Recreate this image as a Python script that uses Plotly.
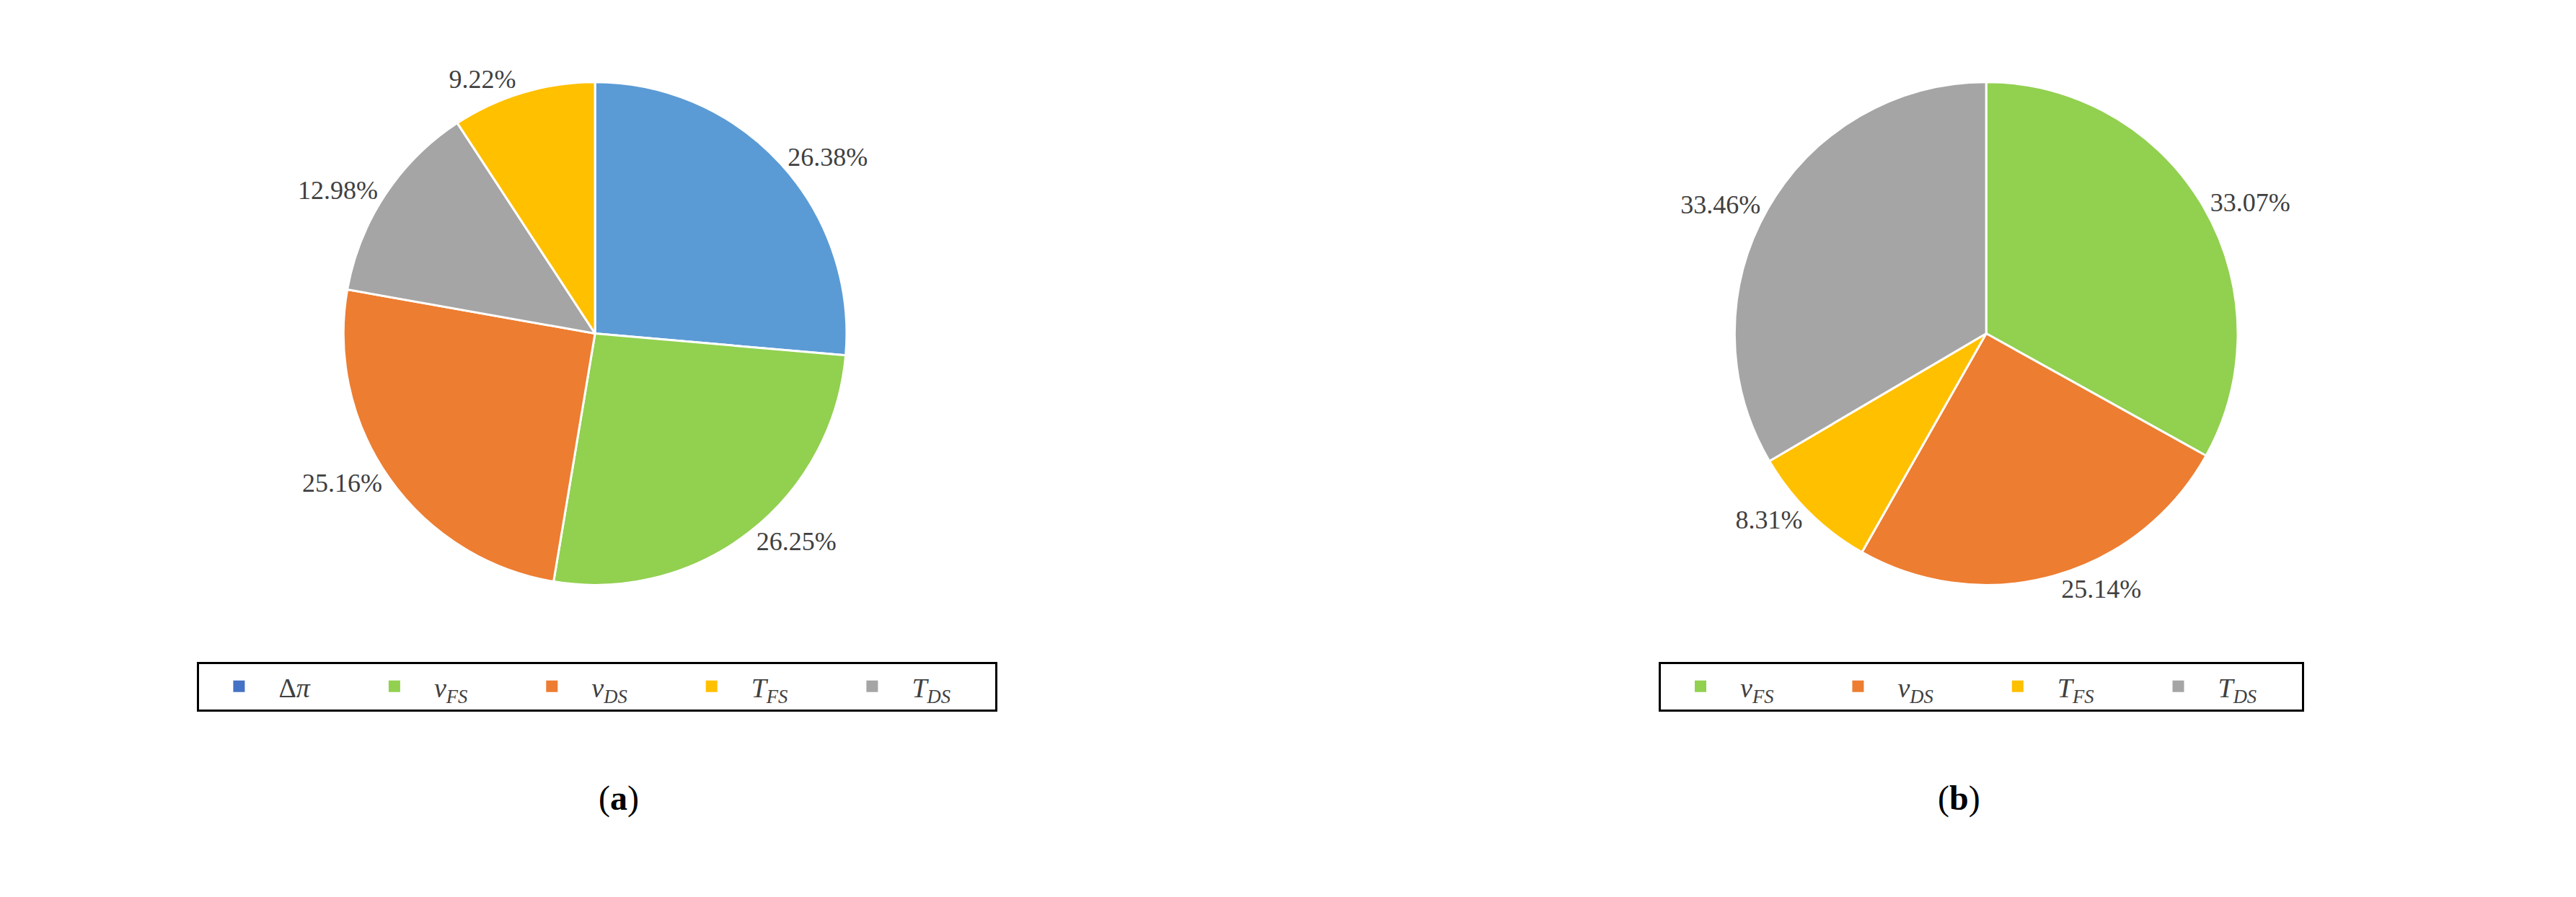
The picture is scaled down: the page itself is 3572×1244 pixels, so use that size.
import plotly.graph_objects as go

labels_a = ["Δ<i>π</i>", "<i>v</i><sub><i>FS</i></sub>", "<i>v</i><sub><i>DS</i></sub>", "<i>T</i><sub><i>DS</i></sub>", "<i>T</i><sub><i>FS</i></sub>"]
values_a = [26.38, 26.25, 25.16, 12.98, 9.22]
colors_a = ["#5B9BD5", "#92D050", "#ED7D31", "#A5A5A5", "#FFC000"]

labels_b = ["<i>v</i><sub><i>FS</i></sub>", "<i>v</i><sub><i>DS</i></sub>", "<i>T</i><sub><i>FS</i></sub>", "<i>T</i><sub><i>DS</i></sub>"]
values_b = [33.07, 25.14, 8.31, 33.46]
colors_b = ["#92D050", "#ED7D31", "#FFC000", "#A5A5A5"]

legend_a = ["Δ<i>π</i>", "<i>v</i><sub><i>FS</i></sub>", "<i>v</i><sub><i>DS</i></sub>", "<i>T</i><sub><i>FS</i></sub>", "<i>T</i><sub><i>DS</i></sub>"]
legend_a_colors = ["#4472C4", "#92D050", "#ED7D31", "#FFC000", "#A5A5A5"]
legend_b = ["<i>v</i><sub><i>FS</i></sub>", "<i>v</i><sub><i>DS</i></sub>", "<i>T</i><sub><i>FS</i></sub>", "<i>T</i><sub><i>DS</i></sub>"]
legend_b_colors = ["#92D050", "#ED7D31", "#FFC000", "#A5A5A5"]

font = "Liberation Serif"
fig = go.Figure()
for vals, labs, cols, dom in [(values_a, labels_a, colors_a, [0.05, 0.38]),
                              (values_b, labels_b, colors_b, [0.63, 0.96])]:
    fig.add_trace(go.Pie(values=vals, labels=labs, sort=False, direction="clockwise",
                         marker=dict(colors=cols, line=dict(color="white", width=3)),
                         text=[f"{v:.2f}%" for v in vals], textinfo="text",
                         textposition="outside", textfont=dict(size=36, color="#404040", family=font),
                         showlegend=False, hoverinfo="skip",
                         domain=dict(x=dom, y=[0.36, 0.93])))

for names, cols, lg in [(legend_a, legend_a_colors, "legend"), (legend_b, legend_b_colors, "legend2")]:
    for n, c in zip(names, cols):
        fig.add_trace(go.Scatter(x=[None], y=[None], mode="markers", name=n + "      ", legend=lg,
                                 marker=dict(symbol="square", size=40, color=c)))

leg_common = dict(orientation="h", bordercolor="black", borderwidth=3, bgcolor="white",
                  font=dict(size=38, family=font, color="#404040"), yanchor="middle",
                  xanchor="center", itemwidth=100, itemsizing="trace")
fig.update_layout(
    width=3572, height=1244, paper_bgcolor="white", plot_bgcolor="white",
    margin=dict(l=0, r=0, t=20, b=0),
    xaxis=dict(visible=False), yaxis=dict(visible=False),
    legend=dict(**leg_common, x=0.216, y=0.245),
    legend2=dict(**leg_common, x=0.793, y=0.245),
    annotations=[
        dict(text="(<b>a</b>)", x=0.216, y=0.095, xref="paper", yref="paper", showarrow=False,
             font=dict(size=48, family=font, color="black")),
        dict(text="(<b>b</b>)", x=0.793, y=0.095, xref="paper", yref="paper", showarrow=False,
             font=dict(size=48, family=font, color="black")),
    ],
)
fig.write_html("out.html")
